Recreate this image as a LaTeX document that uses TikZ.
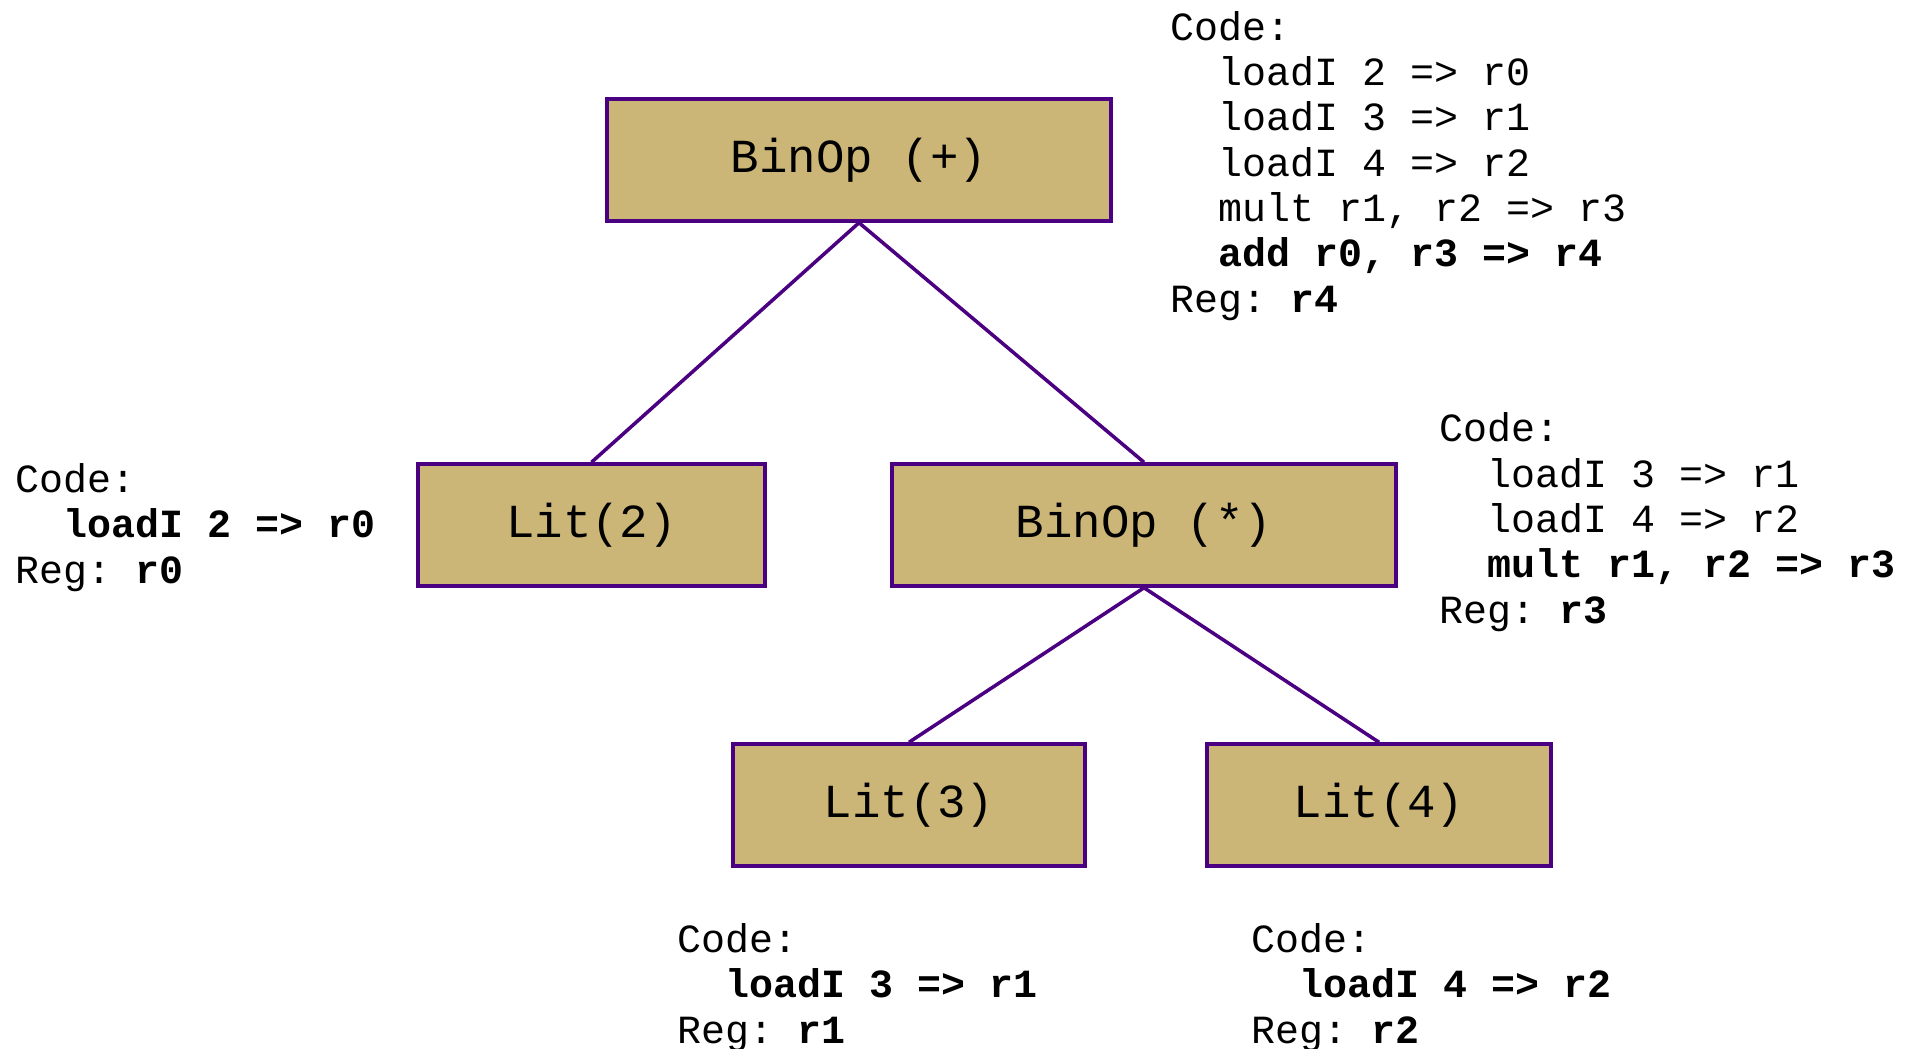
\documentclass[tikz,border=0pt]{standalone}
\usepackage{fontspec}
\setmonofont{Liberation Mono}
\usepackage{tikz}
\usetikzlibrary{positioning}
\definecolor{astGold}{RGB}{203,182,119}
\definecolor{astIndigo}{RGB}{75,0,130}
\newcommand{\ind}{\hphantom{xx}}
\tikzset{
	astnode/.style={draw=astIndigo, fill=astGold, line width=2pt, minimum height=2.44cm,
		font=\ttfamily\fontsize{27}{30}\selectfont, inner sep=0pt},
	edge/.style={astIndigo, line width=2pt},
	codeblock/.style={anchor=base west, align=left, inner sep=0pt,
		font=\ttfamily\fontsize{22.75}{25.8}\selectfont}
}
\begin{document}
\begin{tikzpicture}[x=0.02cm, y=-0.02cm]
	\useasboundingbox (0,0) rectangle (1915,1048);
	\coordinate (P) at (859,160);
	\coordinate (L2) at (591.5,525);
	\coordinate (T) at (1144,525);
	\coordinate (L3) at (909,805);
	\coordinate (L4) at (1379,805);
	% tree
	\node[astnode, minimum width=10.08cm] (plus) at (P) {BinOp (+)};
	\node[astnode, minimum width=6.94cm] (lit2) at (L2) {Lit(2)};
	\node[astnode, minimum width=10.08cm] (times) at (T) {BinOp (*)};
	\node[astnode, minimum width=7.04cm] (lit3) at (L3) {Lit(3)};
	\node[astnode, minimum width=6.88cm] (lit4) at (L4) {Lit(4)};
	\draw[edge] (plus.south) -- (lit2.north);
	\draw[edge] (plus.south) -- (times.north);
	\draw[edge] (times.south) -- (lit3.north);
	\draw[edge] (times.south) -- (lit4.north);
	% generated code (base = last line)
	\node[codeblock] (plusCode) at (1170,312) {Code:\\
		\ind loadI 2 => r0\\
		\ind loadI 3 => r1\\
		\ind loadI 4 => r2\\
		\ind mult r1, r2 => r3\\
		\ind\textbf{add r0, r3 => r4}\\
		Reg: \textbf{r4}};
	\node[codeblock] (lit2Code) at (15,583) {Code:\\
		\ind\textbf{loadI 2 => r0}\\
		Reg: \textbf{r0}};
	\node[codeblock] (timesCode) at (1439,623) {Code:\\
		\ind loadI 3 => r1\\
		\ind loadI 4 => r2\\
		\ind\textbf{mult r1, r2 => r3}\\
		Reg: \textbf{r3}};
	\node[codeblock] (lit3Code) at (677,1043) {Code:\\
		\ind\textbf{loadI 3 => r1}\\
		Reg: \textbf{r1}};
	\node[codeblock] (lit4Code) at (1251,1043) {Code:\\
		\ind\textbf{loadI 4 => r2}\\
		Reg: \textbf{r2}};
\end{tikzpicture}
\end{document}
